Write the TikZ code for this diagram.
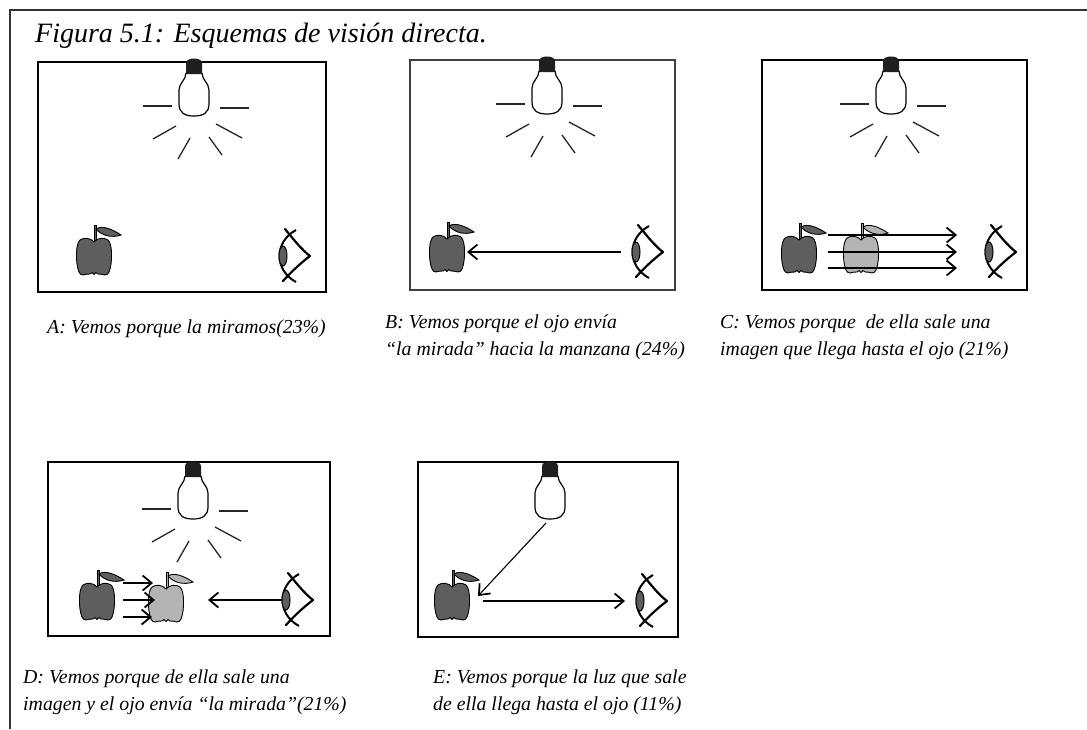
\documentclass[tikz,border=0pt]{standalone}
\usepackage{fontspec}
\setmainfont{Liberation Serif}
\usetikzlibrary{arrows.meta}
\definecolor{appledark}{HTML}{5E5E5E}
\definecolor{applelight}{HTML}{B4B4B4}
\tikzset{
  panel/.style={draw=black, line width=1.7pt},
  ray/.style={draw=black!85, line width=1.3pt},
  arr/.style={line width=1.1pt, -{Straight Barb[length=9pt,width=15pt,line width=1.8pt]}},
  captext/.style={font=\fontsize{19.8}{24}\selectfont\itshape, anchor=base west, inner sep=0pt},
  % apple: origin at the centre of the body
  pics/apple/.style={code={
    \filldraw[fill=#1, line width=0.9pt] (0,-15) rectangle (2.6,-31);
    \filldraw[fill=#1, line width=0.9pt] (2,-27) .. controls (8,-31) and (18,-27) .. (27,-21)
      .. controls (18,-18) and (8,-20) .. (2,-27) -- cycle;
    \filldraw[fill=#1, line width=0.9pt] (0,-14) .. controls (3,-18) and (10,-19) .. (14,-16)
      .. controls (18,-12) and (18,0) .. (17,8) .. controls (16,14) and (15,19) .. (11,19)
      .. controls (8,19) and (6,17) .. (4,18) -- (2,16.5) -- (0,18.5) -- (-2,16.5) -- (-4,18)
      .. controls (-6,17) and (-8,19) .. (-11,19) .. controls (-15,19) and (-16,14) .. (-17,8)
      .. controls (-18,0) and (-18,-12) .. (-14,-16) .. controls (-10,-19) and (-3,-18) .. (0,-14) -- cycle;
  }},
  % eye seen from the side: origin at the point on the right
  pics/eye/.style={code={
    \draw[line width=2.2pt, line join=round, line cap=round]
      (-25,-27) .. controls (-16,-16) and (-8,-6) .. (0,0) .. controls (-8,6) and (-17,14) .. (-27,25);
    \draw[line width=2pt] (-14,-26) .. controls (-36,-14) and (-36,14) .. (-14,26);
    \filldraw[fill=appledark, line width=1pt] (-27,0) ellipse [x radius=4, y radius=10];
  }},
  % light bulb: origin at the bottom of the glass
  pics/bulb/.style={code={
    \fill[black!88] (-8,-42) -- (-8,-53) .. controls (-8,-59) and (8,-59) .. (8,-53) -- (8,-42) -- cycle;
    \draw[line width=1.2pt] (-8,-43) .. controls (-8,-36) and (-15,-33) .. (-15,-26) -- (-15,-12)
      .. controls (-15,-3) and (-9,0) .. (0,0) .. controls (9,0) and (15,-3) .. (15,-12) -- (15,-26)
      .. controls (15,-33) and (8,-36) .. (8,-43);
  }},
  pics/rays/.style={code={
    \draw[ray] (-51,-10) -- (-22,-10);
    \draw[ray] (26,-8) -- (55,-8);
    \draw[ray] (-18,10) -- (-41,23);
    \draw[ray] (22,8) -- (48,22);
    \draw[ray] (-4,22) -- (-16,43);
    \draw[ray] (15,21) -- (28,39);
  }},
}
\begin{document}
\begin{tikzpicture}[x=1pt, y=-1pt]
\useasboundingbox (0,0) rectangle (1087,729);
\fill[white] (0,0) rectangle (1087,729);

% outer frame
\draw[line width=2.2pt, black!80] (10,729) -- (10,10) -- (1087,10);
\node[font=\fontsize{28}{32}\selectfont\itshape, anchor=base west, inner sep=0pt] (title) at (35,42)
  {Figura 5.1: Esquemas de visión directa.};

% ---- A ----
\draw[panel] (38,62) rectangle (326,292);
\pic at (194,116) {bulb};
\pic at (194,116) {rays};
\pic at (94,256) {apple=appledark};
\pic at (310,256) {eye};
\node[captext] (capA) at (47,333) {A: Vemos porque la miramos(23\%)};

% ---- B ----
\draw[panel, draw=black!75, line width=1.3pt] (410,60) rectangle (675,290);
\pic at (547,114) {bulb};
\pic at (547,114) {rays};
\pic at (447,253) {apple=appledark};
\pic at (663,252) {eye};
\coordinate (Bfrom) at (621,252);
\coordinate (Bto) at (467,252);
\draw[arr] (Bfrom) -- (Bto);
\node[captext] (capB1) at (385,328) {B: Vemos porque el ojo envía};
\node[captext] (capB2) at (385,355) {“la mirada” hacia la manzana (24\%)};

% ---- C ----
\draw[panel] (762,60) rectangle (1027,290);
\pic at (891,114) {bulb};
\pic at (891,114) {rays};
\pic at (799,254) {apple=appledark};
\pic at (861,254) {apple=applelight};
\pic at (1016,252) {eye};
\coordinate (C1a) at (828,235); \coordinate (C1b) at (957,235);
\coordinate (C2a) at (828,252); \coordinate (C2b) at (957,252);
\coordinate (C3a) at (828,268); \coordinate (C3b) at (957,268);
\draw[arr] (C1a) -- (C1b);
\draw[arr] (C2a) -- (C2b);
\draw[arr] (C3a) -- (C3b);
\node[captext] (capC1) at (720,328) {C: Vemos porque~ de ella sale una};
\node[captext] (capC2) at (720,355) {imagen que llega hasta el ojo (21\%)};

% ---- D ----
\draw[panel] (48,462) rectangle (330,636);
\pic at (193,519) {bulb};
\pic at (193,519) {rays};
\pic at (97,601) {apple=appledark};
\pic at (166,603) {apple=applelight};
\pic at (313,600) {eye};
\coordinate (D1a) at (123,583); \coordinate (D1b) at (153,583);
\coordinate (D2a) at (123,600); \coordinate (D2b) at (155,600);
\coordinate (D3a) at (123,617); \coordinate (D3b) at (152,617);
\draw[arr] (D1a) -- (D1b);
\draw[arr] (D2a) -- (D2b);
\draw[arr] (D3a) -- (D3b);
\coordinate (Dfrom) at (282,600);
\coordinate (Dto) at (208,600);
\draw[arr] (Dfrom) -- (Dto);
\node[captext] (capD1) at (23,683) {D: Vemos porque de ella sale una};
\node[captext] (capD2) at (23,710) {imagen y el ojo envía “la mirada”(21\%)};

% ---- E ----
\draw[panel, line width=1.5pt] (418,462) rectangle (678,637);
\pic at (550,519) {bulb};
\pic at (452,601) {apple=appledark};
\pic at (667,601) {eye};
\coordinate (Elamp) at (546,523);
\coordinate (Eapple) at (478,596);
\draw[arr] (Elamp) -- (Eapple);
\coordinate (Efrom) at (483,601);
\coordinate (Eto) at (625,601);
\draw[arr] (Efrom) -- (Eto);
\node[captext] (capE1) at (433,683) {E: Vemos porque la luz que sale};
\node[captext] (capE2) at (433,710) {de ella llega hasta el ojo (11\%)};
\end{tikzpicture}
\end{document}
